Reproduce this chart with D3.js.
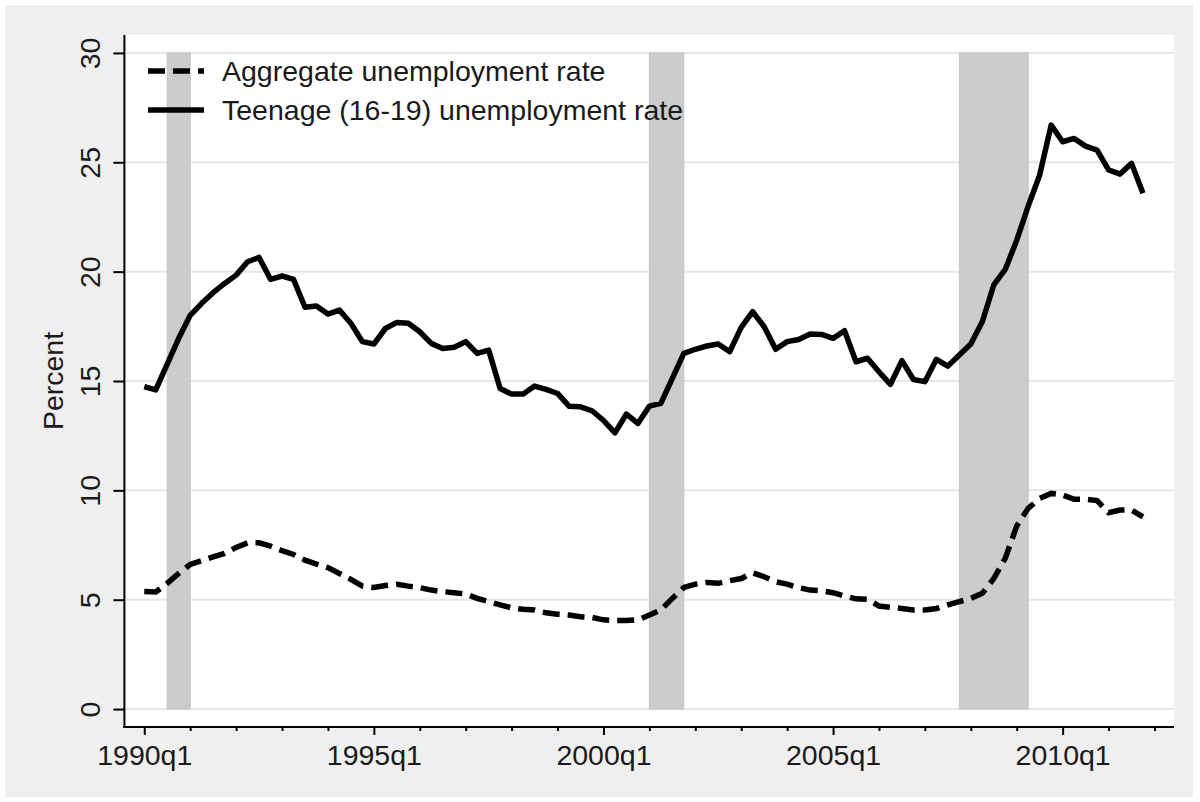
<!DOCTYPE html>
<html><head><meta charset="utf-8">
<script src="https://cdn.jsdelivr.net/npm/d3@7"></script>
<style>
body{margin:0;background:#fff;}
svg{display:block;}
text{font-family:"Liberation Sans",Arial,sans-serif;fill:#1a1a1a;}
</style>
</head><body>
<svg id="chart" width="1200" height="802"></svg>
<script>
// ---- data ----
const years = d3.range(1990, 2012);
const quarters = years.flatMap(y => [1,2,3,4].map(q => y + "q" + q));
const xTickLabels = ["1990q1","1995q1","2000q1","2005q1","2010q1"];
const xMinorLabels = ["1991q1","1992q1","1993q1","1994q1","1996q1","1997q1","1998q1","1999q1","2001q1","2002q1","2003q1","2004q1","2006q1","2007q1","2008q1","2009q1","2011q1","2012q1"];
const yTicks = [0,5,10,15,20,25,30];
const recessions = [["1990q3","1991q1"],["2001q1","2001q4"],["2007q4","2009q2"]];
const seriesNames = ["Aggregate unemployment rate","Teenage (16-19) unemployment rate"];
const aggregate = [5.37,5.35,5.75,6.2,6.61,6.78,6.96,7.12,7.39,7.6,7.6,7.45,7.24,7.07,6.81,6.63,6.47,6.2,5.93,5.62,
  5.56,5.65,5.71,5.62,5.55,5.44,5.37,5.32,5.26,5.06,4.91,4.76,4.63,4.56,4.53,4.4,4.34,4.3,4.22,4.19,
  4.08,4.05,4.05,4.08,4.3,4.53,5.06,5.56,5.71,5.79,5.75,5.87,5.97,6.23,6.05,5.82,5.71,5.55,5.44,5.41,
  5.32,5.17,5.04,5.02,4.71,4.65,4.6,4.53,4.53,4.6,4.76,4.91,5.06,5.29,5.97,6.89,8.37,9.18,9.63,9.86,
  9.79,9.59,9.59,9.53,8.98,9.1,9.1,8.79];
const teen = [14.74,14.59,15.77,16.95,18.0,18.55,19.04,19.46,19.84,20.45,20.65,19.65,19.8,19.65,18.37,18.43,18.06,18.24,17.64,16.8,
  16.69,17.4,17.68,17.64,17.25,16.72,16.49,16.54,16.8,16.26,16.41,14.66,14.4,14.4,14.77,14.62,14.43,13.85,13.82,13.64,
  13.2,12.63,13.49,13.06,13.85,13.98,15.12,16.26,16.45,16.6,16.69,16.34,17.45,18.17,17.48,16.45,16.8,16.9,17.15,17.13,
  16.95,17.3,15.88,16.04,15.42,14.85,15.93,15.07,14.97,15.99,15.68,16.19,16.69,17.71,19.39,20.1,21.44,23.0,24.42,26.7,
  25.94,26.09,25.74,25.56,24.65,24.46,24.95,23.58];

// ---- layout ----
const W = 1200, H = 802;
const FS = 28.5;
const plot = {left:124.4, right:1174, top:35, bottom:727};
const idx = q => { const y = +q.slice(0,4), n = +q.slice(5); return (y-1990)*4 + (n-1); };

const x = d3.scaleLinear().domain([-1.73, 89.7]).range([plot.left, plot.right]);
const y = d3.scaleLinear().domain([-0.82, 30.82]).range([plot.bottom, plot.top]);

const svg = d3.select("#chart");
svg.append("rect").attr("x",5).attr("y",5).attr("width",W-12).attr("height",H-10).attr("fill","#efefef");
svg.append("rect").attr("x",plot.left).attr("y",plot.top).attr("width",plot.right-plot.left).attr("height",plot.bottom-plot.top).attr("fill","#fff");

// gridlines
svg.append("g").selectAll("line").data(yTicks).join("line")
  .attr("x1",plot.left).attr("x2",plot.right)
  .attr("y1",d=>y(d)).attr("y2",d=>y(d))
  .attr("stroke","#e6e6e6").attr("stroke-width",2);

// recession bands
svg.append("g").selectAll("rect").data(recessions).join("rect")
  .attr("x",d=>x(idx(d[0]))).attr("width",d=>x(idx(d[1]))-x(idx(d[0])))
  .attr("y",y(30)).attr("height",y(0)-y(30))
  .attr("fill","#cccccc").attr("stroke","#c4c4c4").attr("stroke-width",1);

// lines
const line = d3.line().x((d,i)=>x(i)).y(d=>y(d));
svg.append("path").datum(teen).attr("d",line)
  .attr("fill","none").attr("stroke","#000").attr("stroke-width",5.5).attr("stroke-linejoin","round");
svg.append("path").datum(aggregate).attr("d",line)
  .attr("fill","none").attr("stroke","#000").attr("stroke-width",5.5).attr("stroke-dasharray","17,8");

// axes
const yAxis = d3.axisLeft(y).tickValues(yTicks).tickSize(11).tickFormat(d3.format("d"));
const gy = svg.append("g").attr("transform",`translate(${plot.left},0)`).call(yAxis);
gy.select(".domain").remove();
gy.selectAll(".tick line").attr("stroke","#000").attr("stroke-width",2);
gy.selectAll(".tick text").attr("font-size",FS).attr("text-anchor","middle")
  .attr("x",null).attr("dy",null)
  .attr("transform","translate(-24.5,0) rotate(-90)");
svg.append("line").attr("x1",plot.left).attr("x2",plot.left).attr("y1",plot.top).attr("y2",plot.bottom+1)
  .attr("stroke","#000").attr("stroke-width",2);

const xAxis = d3.axisBottom(x).tickValues(xTickLabels.map(idx)).tickSize(8).tickFormat(d=>quarters[d]);
const gx = svg.append("g").attr("transform",`translate(0,${plot.bottom})`).call(xAxis);
gx.select(".domain").remove();
gx.selectAll(".tick line").attr("stroke","#000").attr("stroke-width",2);
gx.selectAll(".tick text").attr("font-size",FS).attr("dy",null).attr("y",38);
const xMinor = d3.axisBottom(x).tickValues(xMinorLabels.map(idx)).tickSize(4).tickFormat("");
const gxm = svg.append("g").attr("transform",`translate(0,${plot.bottom})`).call(xMinor);
gxm.select(".domain").remove();
gxm.selectAll(".tick line").attr("stroke","#000").attr("stroke-width",2);
svg.append("line").attr("x1",plot.left-1).attr("x2",plot.right).attr("y1",plot.bottom).attr("y2",plot.bottom)
  .attr("stroke","#000").attr("stroke-width",2);

// y title
svg.append("text").attr("transform",`translate(63,${(y(0)+y(30))/2}) rotate(-90)`)
  .attr("text-anchor","middle").attr("font-size",FS).text("Percent");

// legend
const legend = svg.append("g");
const legendItems = [{name:seriesNames[0],dash:"17,8",yy:71},{name:seriesNames[1],dash:null,yy:110}];
legend.selectAll("line").data(legendItems).join("line")
  .attr("x1",148).attr("x2",204).attr("y1",d=>d.yy).attr("y2",d=>d.yy)
  .attr("stroke","#000").attr("stroke-width",5.5).attr("stroke-dasharray",d=>d.dash);
legend.selectAll("text").data(legendItems).join("text")
  .attr("x",222).attr("y",d=>d.yy+10).attr("font-size",FS).text(d=>d.name);
</script>
</body></html>
